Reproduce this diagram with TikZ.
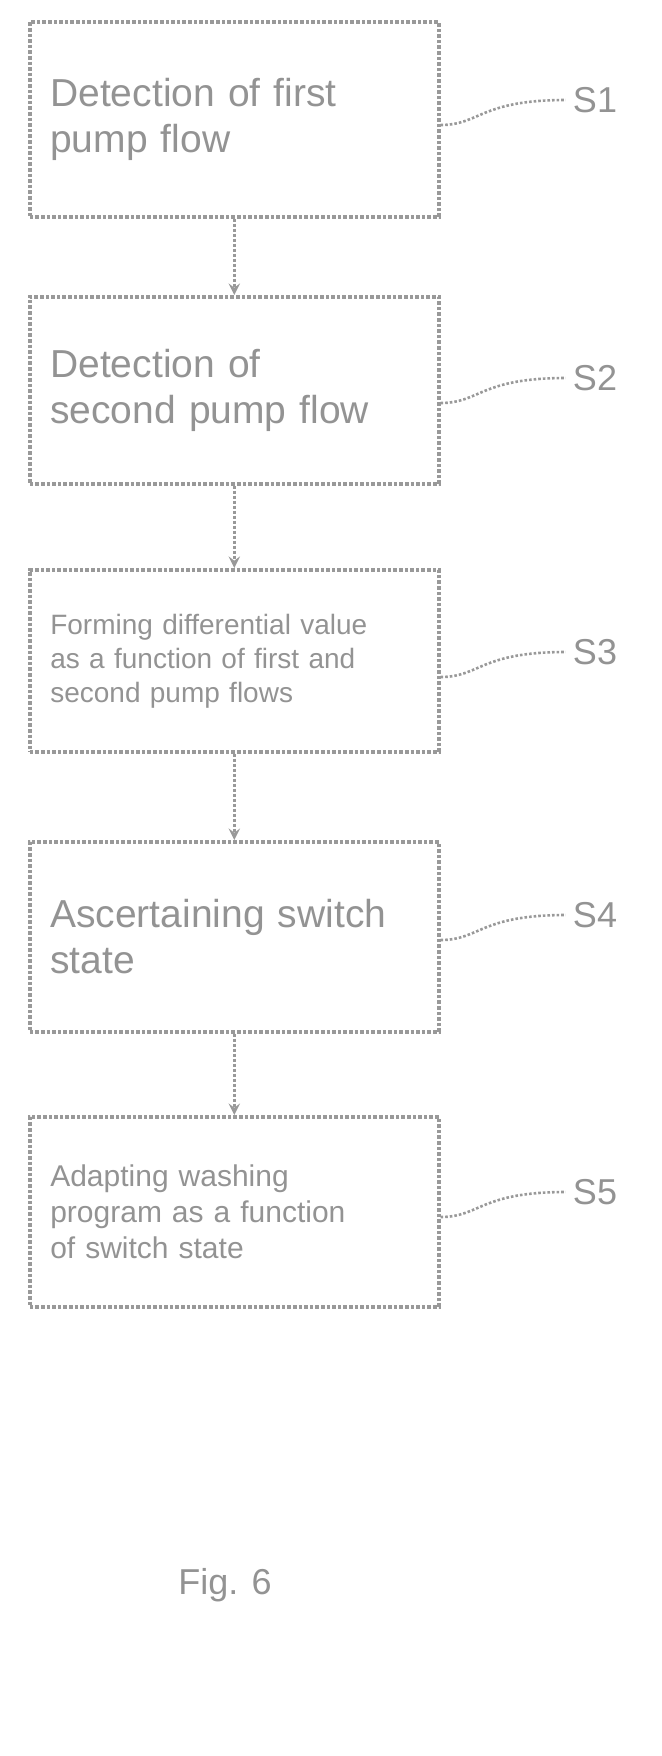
\documentclass[tikz,border=0pt]{standalone}
\usepackage{fontspec}
\setmainfont{Liberation Sans}
\begin{document}
\begin{tikzpicture}[x=0.5pt,y=-0.5pt,
  box/.style={draw=gray!80,line width=1.8pt,densely dotted,minimum width=204.5pt,text width=184pt,align=left,inner xsep=10pt,inner ysep=0pt,anchor=north west,text=gray!85},
  arr/.style={draw=gray!80,line width=1.5pt,densely dotted,->,>=stealth},
  lab/.style={text=gray!85,font=\fontsize{18}{20}\selectfont},
  sq/.style={draw=gray!80,line width=1.3pt,densely dotted}]
\useasboundingbox (0,0) rectangle (662,1756);
\node[box,minimum height=97.5pt,font=\fontsize{19.5}{23}\selectfont] (b1) at (28,20) {Detection of first\\pump flow};
\node[box,minimum height=93.5pt,font=\fontsize{19.5}{23}\selectfont] (b2) at (28,295) {Detection of\\second pump flow};
\node[box,minimum height=91pt,font=\fontsize{14}{17}\selectfont] (b3) at (28,568) {Forming differential value\\as a function of first and\\second pump flows};
\node[box,minimum height=95pt,font=\fontsize{19.5}{23}\selectfont] (b4) at (28,840) {Ascertaining switch\\state};
\node[box,minimum height=95pt,font=\fontsize{15}{18}\selectfont] (b5) at (28,1115) {Adapting washing\\program as a function\\of switch state};
\foreach \a/\b in {b1/b2,b2/b3,b3/b4,b4/b5}{\draw[arr] (\a.south) -- (\b.north);}
\foreach \i/\y in {1/100,2/378,3/652,4/915,5/1192}{
  \pgfmathsetmacro\yy{\y+25}
  \node[lab] (s\i) at (595,\y) {S\i};
  \draw[sq] (b\i.east |- 0,\yy) .. controls (480,\yy) and (480,\y) .. (s\i.west);
}
\node[text=gray!85,font=\fontsize{18}{20}\selectfont] (fig) at (225,1585) {Fig. 6};
\end{tikzpicture}
\end{document}
